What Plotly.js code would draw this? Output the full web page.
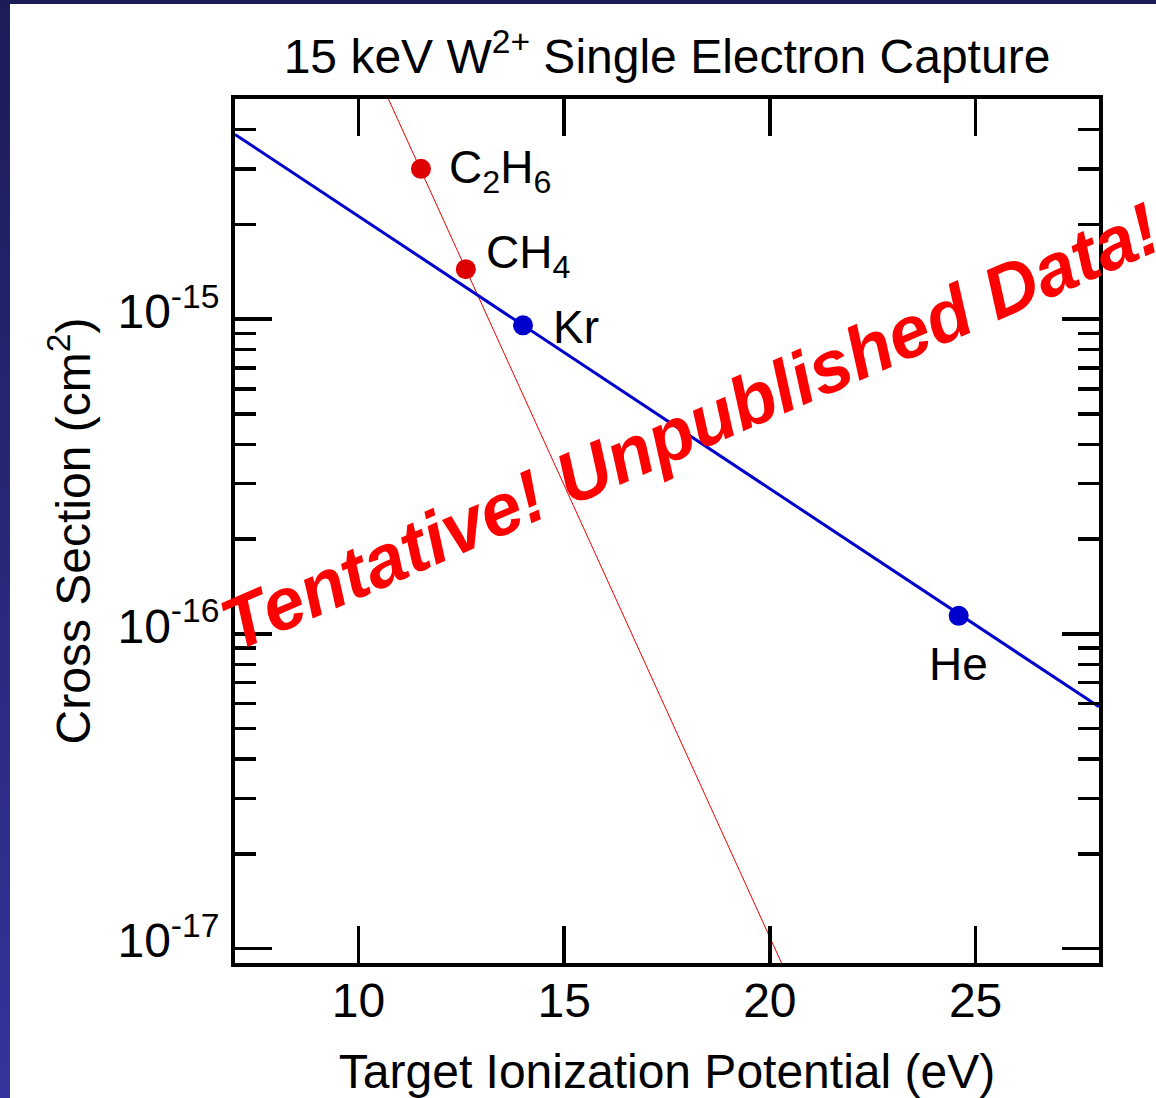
<!DOCTYPE html>
<html><head><meta charset="utf-8">
<script src="https://cdn.plot.ly/plotly-3.0.1.min.js"></script>
<style>
html,body{margin:0;padding:0;background:#fff;overflow:hidden}
#chart{position:absolute;left:0;top:0;width:1156px;height:1098px}
#bandTop{position:absolute;left:0;top:0;width:1156px;height:4px;background:#1c1c58;z-index:5}
#bandLeft{position:absolute;left:0;top:0;width:10px;height:1098px;background:linear-gradient(#1c1c58,#34349c);z-index:5}
</style></head>
<body>
<div id="chart"></div><div id="bandTop"></div><div id="bandLeft"></div>
<script>
// ---- data ----
const redNames = ['C<sub>2</sub>H<sub>6</sub>', 'CH<sub>4</sub>'];
const redX = [11.52, 12.61];          // ionization potential (eV)
const redY = [3.0e-15, 1.44e-15];     // cross section (cm^2)
const blueNames = ['Kr', 'He'];
const blueX = [14.0, 24.59];
const blueY = [9.55e-16, 1.14e-16];
const redFitX = [10, 21];
const redFitY = [8.1e-15, 5.6e-18];
const blueFitX = [7, 28];
const blueFitY = [3.86e-15, 5.86e-17];
const xTickVals = [10, 15, 20, 25];
const yTickVals = [1e-17, 1e-16, 1e-15];
const yTickText = ['10<sup>-17</sup>', '10<sup>-16</sup>', '10<sup>-15</sup>'];
const titleText = '15 keV W<sup>2+</sup> Single Electron Capture';
const xTitle = 'Target Ionization Potential (eV)';
const yTitle = 'Cross Section (cm<sup>2</sup>)';
const watermark = 'Tentative! Unpublished Data!';

// ---- styling ----
const FONT = 'Liberation Sans, Arial, Helvetica, sans-serif';
const minorVals = [];
for (let e = -18; e <= -15; e++) for (let d = 2; d <= 9; d++) minorVals.push(d * Math.pow(10, e));

const traces = [
  {x: redFitX, y: redFitY, mode: 'lines', line: {color: '#ee0000', width: 1}, hoverinfo: 'skip'},
  {x: blueFitX, y: blueFitY, mode: 'lines', line: {color: '#0000cc', width: 3}, hoverinfo: 'skip'},
  {x: redX, y: redY, mode: 'markers', marker: {color: '#dd0000', size: 20}, cliponaxis: false},
  {x: blueX, y: blueY, mode: 'markers', marker: {color: '#0000cc', size: 20}, cliponaxis: false}
];

const labelFont = {family: FONT, size: 46, color: '#000'};
const labelOffsets = [
  {xs: 26, ys: -2, xa: 'left', ya: 'middle'},
  {xs: 18, ys: 14, xa: 'left', ya: 'middle'},
  {xs: 28, ys: -2, xa: 'left', ya: 'middle'},
  {xs: 0, ys: -48, xa: 'center', ya: 'middle'}
];
const names = redNames.concat(blueNames);
const px = redX.concat(blueX);
const py = redY.concat(blueY);
const annotations = names.map((n, i) => ({
  x: px[i], y: Math.log10(py[i]), xref: 'x', yref: 'y', text: n, showarrow: false,
  xanchor: labelOffsets[i].xa, yanchor: labelOffsets[i].ya,
  xshift: labelOffsets[i].xs, yshift: labelOffsets[i].ys, font: labelFont
}));
annotations.push({
  x: 0.527, y: 0.621, xref: 'paper', yref: 'paper', text: watermark, showarrow: false,
  textangle: -23.5, xanchor: 'center', yanchor: 'middle',
  font: {family: FONT, size: 73.5, color: '#ff0000', weight: 'bold', style: 'italic'}
});

const axisCommon = {
  showgrid: false, zeroline: false, showline: true, linecolor: '#000', linewidth: 4,
  mirror: 'ticks', ticks: 'inside', tickcolor: '#000', tickwidth: 3.5, ticklen: 37,
  tickfont: {family: FONT, size: 48, color: '#000'}
};

const layout = {
  width: 1156, height: 1098,
  margin: {l: 235, r: 57, t: 99, b: 135},
  paper_bgcolor: '#fff', plot_bgcolor: '#fff',
  showlegend: false,
  font: {family: FONT, color: '#000'},
  title: {text: titleText, font: {family: FONT, size: 48, color: '#000'},
          x: 0.5, xref: 'paper', y: 1 - 56 / 1098, yref: 'container', yanchor: 'middle'},
  xaxis: Object.assign({}, axisCommon, {
    range: [7, 28], tickmode: 'array', tickvals: xTickVals, ticklabelstandoff: -8,
    title: {text: xTitle, font: {family: FONT, size: 48, color: '#000'}, standoff: 36}
  }),
  yaxis: Object.assign({}, axisCommon, {
    type: 'log', range: [-17.046, -14.301], tickmode: 'array', tickvals: yTickVals, ticktext: yTickText,
    ticklabelstandoff: 2, ticklabelshift: -8,
    minor: {tickmode: 'array', tickvals: minorVals, ticks: 'inside', ticklen: 21, tickwidth: 3.5, tickcolor: '#000'},
    title: {text: yTitle, font: {family: FONT, size: 48, color: '#000'}, standoff: 13}
  }),
  annotations: annotations
};

Plotly.newPlot('chart', traces, layout, {displayModeBar: false, staticPlot: true});
</script>
</body></html>
